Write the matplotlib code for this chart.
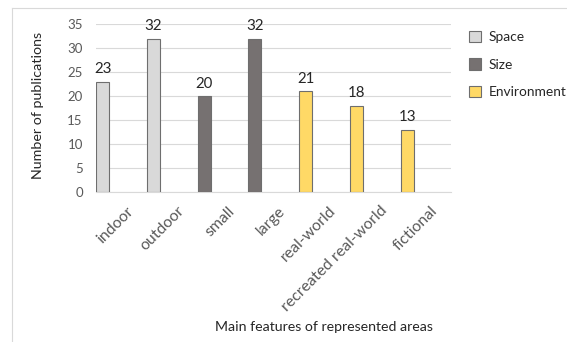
import matplotlib
matplotlib.use("Agg")
import matplotlib.pyplot as plt
from matplotlib.patches import Patch
from matplotlib.lines import Line2D
from matplotlib.transforms import ScaledTranslation

plt.rcParams['font.family'] = ['Lato', 'DejaVu Sans']

categories = ["indoor", "outdoor", "small", "large", "real-world",
              "recreated real-world", "fictional"]
values = [23, 32, 20, 32, 21, 18, 13]
groups = ["Space", "Space", "Size", "Size", "Environment", "Environment", "Environment"]
group_names = ["Space", "Size", "Environment"]
group_colors = {"Space": "#D9D9D9", "Size": "#767171", "Environment": "#FFD966"}
yticks = [0, 5, 10, 15, 20, 25, 30, 35]

fig = plt.figure(figsize=(5.67, 3.42), dpi=100)
ax = fig.add_axes([96 / 567, 1 - 192 / 342, (451 - 96) / 567, (192 - 24.3) / 342])

x = list(range(len(categories)))
bar_offset = -0.366
bar_width = 0.257
for xi, v, g in zip(x, values, groups):
    ax.bar(xi + bar_offset, v, width=bar_width, color=group_colors[g],
           edgecolor="#6e6e6e", linewidth=0.8, zorder=3)
    ax.annotate(str(v), (xi + bar_offset, v), xytext=(0, 4),
                textcoords="offset points", ha="center", va="bottom",
                fontsize=10.8, color="#262626", annotation_clip=False)

ax.set_xlim(-0.5, len(categories) - 0.5)
ax.set_ylim(0, 35)
ax.set_yticks(yticks)
ax.yaxis.grid(True, color="#D9D9D9", linewidth=0.8, zorder=0)
ax.set_axisbelow(True)
for s in ["top", "right", "left"]:
    ax.spines[s].set_visible(False)
ax.spines["bottom"].set_color("#D9D9D9")
ax.spines["bottom"].set_linewidth(0.8)
ax.tick_params(axis="both", length=0, colors="#595959")
ax.tick_params(axis="y", pad=9.5, labelsize=9.5)
ax.set_xticks(x)
ax.set_xticklabels(categories, rotation=45, ha="right", rotation_mode="anchor",
                   fontsize=11.4)
ax.tick_params(axis="x", pad=8.5)
shift = ScaledTranslation(5 / 100, 0, fig.dpi_scale_trans)
for lbl in ax.get_xticklabels():
    lbl.set_transform(lbl.get_transform() + shift)

fig.text(38 / 567, 1 - 105 / 342, "Number of publications", rotation=90,
         ha="center", va="center", fontsize=10.3, color="#262626")
fig.text(324 / 567, 1 - 327 / 342, "Main features of represented areas",
         ha="center", va="center", fontsize=10.2, color="#262626")

handles = [Patch(facecolor=group_colors[g], edgecolor="#6e6e6e", linewidth=0.8)
           for g in group_names]
fig.legend(handles, group_names, loc="upper left",
           bbox_to_anchor=(469 / 567, 1 - 31 / 342), frameon=False,
           fontsize=9.9, handlelength=0.87, handleheight=0.87,
           handletextpad=0.55, labelspacing=1.1, borderaxespad=0,
           borderpad=0, labelcolor="#262626")

# chart frame edges
fig.add_artist(Line2D([11.5 / 567, 11.5 / 567], [0, 1 - 8 / 342],
                      transform=fig.transFigure, color="#D9D9D9", linewidth=0.8))
fig.add_artist(Line2D([11.5 / 567, 1], [1 - 8 / 342, 1 - 8 / 342],
                      transform=fig.transFigure, color="#D9D9D9", linewidth=0.8))

fig.savefig("out.png", dpi=100)
